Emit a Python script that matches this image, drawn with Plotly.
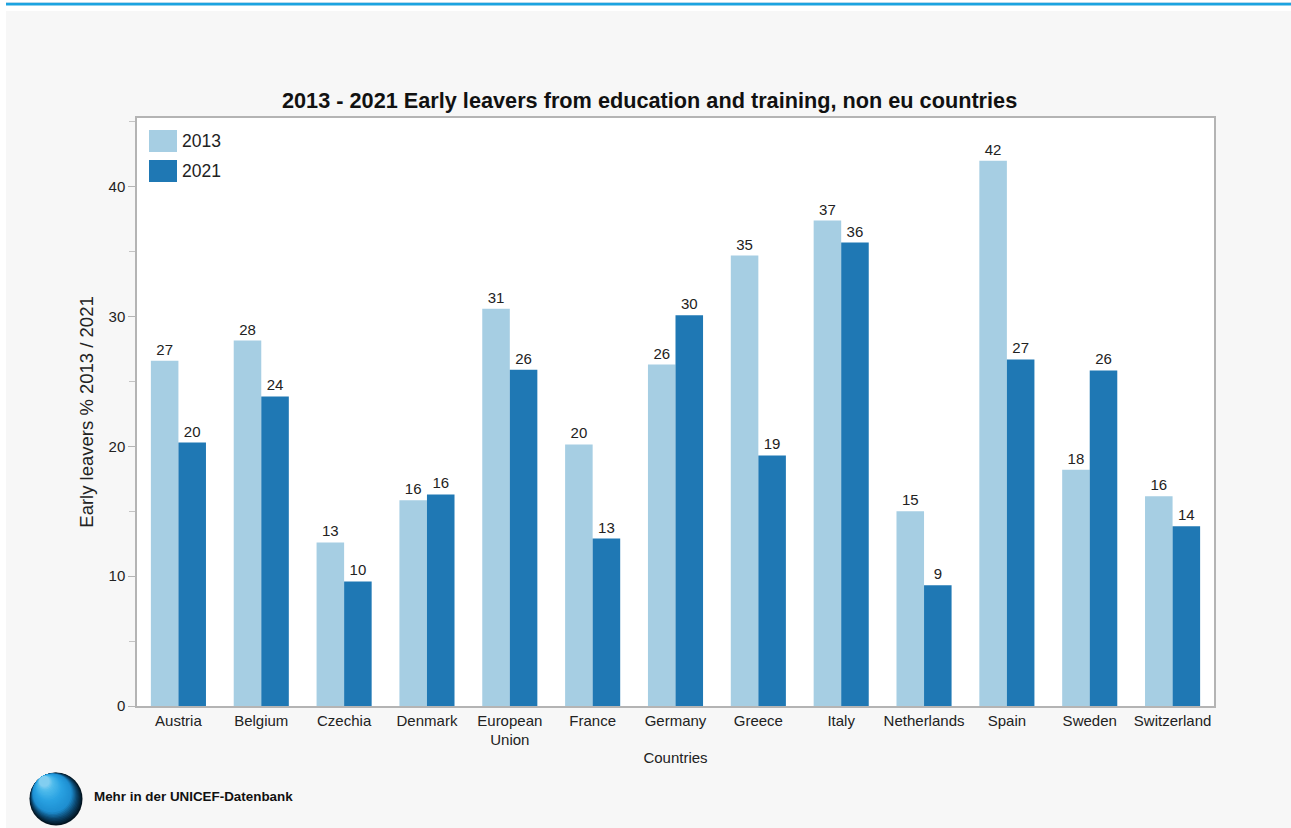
import plotly.graph_objects as go

# Early leavers from education and training (%), 2013 vs 2021
countries = ["Austria", "Belgium", "Czechia", "Denmark", "European<br>Union", "France",
             "Germany", "Greece", "Italy", "Netherlands", "Spain", "Sweden", "Switzerland"]
values_2013 = [26.6, 28.15, 12.6, 15.85, 30.6, 20.15, 26.3, 34.7, 37.4, 15.0, 42.0, 18.2, 16.15]
values_2021 = [20.3, 23.85, 9.6, 16.3, 25.9, 12.9, 30.1, 19.3, 35.7, 9.3, 26.7, 25.85, 13.85]
series_names = ["2013", "2021"]
series_colors = ["#a6cee3", "#1f78b4"]

W, H = 1291, 828
ML, MR, MT, MB = 137, 77, 118, 122
PW, PH = W - ML - MR, H - MT - MB
FONT = "Liberation Sans, Arial, Helvetica, sans-serif"
TXT = "#222222"


def px_x(x):
    return (x - ML) / PW


def px_y(y):
    return (H - MB - y) / PH


fig = go.Figure()
for name, vals, col in zip(series_names, [values_2013, values_2021], series_colors):
    fig.add_trace(go.Bar(
        x=countries, y=vals, name=name,
        marker=dict(color=col, line=dict(width=0)),
        text=vals, texttemplate="%{y:.0f}", textposition="outside",
        outsidetextfont=dict(family=FONT, size=15, color=TXT),
        cliponaxis=False, showlegend=False,
    ))

shapes = [
    # white header strip with blue rule
    dict(type="rect", xref="paper", yref="paper", x0=px_x(0), x1=px_x(W), y0=px_y(0), y1=px_y(11),
         fillcolor="white", line=dict(width=0), layer="below"),
    dict(type="rect", xref="paper", yref="paper", x0=px_x(0), x1=px_x(6), y0=px_y(0), y1=px_y(H),
         fillcolor="white", line=dict(width=0), layer="below"),
    dict(type="rect", xref="paper", yref="paper", x0=px_x(6), x1=px_x(W), y0=px_y(3), y1=px_y(5.5),
         fillcolor="#1ca3e0", line=dict(width=0), layer="below"),
    dict(type="rect", xref="paper", yref="paper", x0=px_x(6), x1=px_x(W), y0=px_y(2.2), y1=px_y(3),
         fillcolor="#9fcde6", line=dict(width=0), layer="below"),
]

# legend swatches
legend_items = []
for i, (name, col) in enumerate(zip(series_names, series_colors)):
    top = 130 + i * 30
    shapes.append(dict(type="rect", xref="paper", yref="paper",
                       x0=px_x(149), x1=px_x(177), y0=px_y(top), y1=px_y(top + 22),
                       fillcolor=col, line=dict(width=0)))
    legend_items.append(dict(text=name, xref="paper", yref="paper", x=px_x(180), y=px_y(top + 11),
                             xanchor="left", yanchor="middle", showarrow=False,
                             font=dict(family=FONT, size=17.5, color=TXT)))

# shaded sphere logo built from layered circles
cx, cy, r = 56, 799, 26.5
dx, dy = -0.55, -0.83
stops = [(0.0, (2, 20, 32)), (0.16, (12, 72, 112)), (0.32, (30, 142, 208)),
         (0.62, (42, 162, 226)), (0.88, (80, 188, 236)), (1.0, (130, 206, 240))]


def color_at(t):
    for (t0, c0), (t1, c1) in zip(stops[:-1], stops[1:]):
        if t <= t1:
            f = (t - t0) / (t1 - t0)
            return "rgb(%d,%d,%d)" % tuple(round(a + (b - a) * f) for a, b in zip(c0, c1))
    return "rgb(%d,%d,%d)" % stops[-1][1]


n = 28
for k in range(n):
    t = k / (n - 1)
    rk = r * (1 - 0.8 * t)
    ccx = cx + (r - rk) * dx
    ccy = cy + (r - rk) * dy
    shapes.append(dict(type="circle", xref="paper", yref="paper",
                       x0=px_x(ccx - rk), x1=px_x(ccx + rk), y0=px_y(ccy + rk), y1=px_y(ccy - rk),
                       fillcolor=color_at(t), line=dict(width=0)))

annotations = legend_items + [
    dict(text="<b>2013 - 2021 Early leavers from education and training, non eu countries</b>",
         xref="paper", yref="paper", x=px_x(649.5), y=px_y(101), xanchor="center", yanchor="middle",
         showarrow=False, font=dict(family=FONT, size=21.7, color="#111111")),
    dict(text="<b>Mehr in der UNICEF-Datenbank</b>", xref="paper", yref="paper",
         x=px_x(92), y=px_y(797), xanchor="left", yanchor="middle", showarrow=False,
         font=dict(family=FONT, size=13.4, color="#111111")),
]

fig.update_layout(
    width=W, height=H,
    margin=dict(l=ML, r=MR, t=MT, b=MB, pad=0),
    paper_bgcolor="#f7f7f7", plot_bgcolor="white",
    barmode="group", bargap=0.335, bargroupgap=0,
    font=dict(family=FONT, size=15, color=TXT),
    shapes=shapes, annotations=annotations,
    xaxis=dict(
        title=dict(text="Countries", font=dict(size=15, color=TXT), standoff=5),
        showline=True, linecolor="#b4b4b4", linewidth=1.5, mirror=True,
        ticks="", tickfont=dict(size=15, color=TXT), showgrid=False,
    ),
    yaxis=dict(
        title=dict(text="Early leavers % 2013 / 2021", font=dict(size=18.5, color=TXT), standoff=10),
        range=[0, 45.3], tickvals=[0, 10, 20, 30, 40], showgrid=False, zeroline=False,
        showline=True, linecolor="#b4b4b4", linewidth=1.5, mirror=True,
        ticks="outside", ticklen=7, tickcolor="#b4b4b4", tickwidth=1,
        minor=dict(tickvals=[5, 15, 25, 35, 45], ticks="outside", ticklen=6, tickcolor="#c4c4c4"),
        tickfont=dict(size=15, color=TXT),
    ),
)

fig.write_html("out.html")
